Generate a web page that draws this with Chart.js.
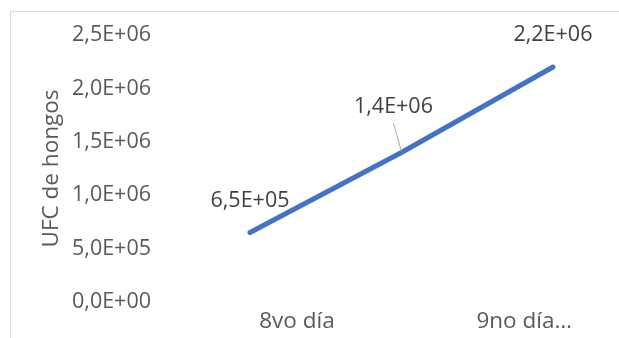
<!DOCTYPE html>
<html>
<head>
<meta charset="utf-8">
<script src="https://cdn.jsdelivr.net/npm/chart.js@4"></script>
<style>
  html, body { margin: 0; padding: 0; background: #fff; overflow: hidden; }
  #wrap { position: relative; width: 619px; height: 338px; }
  #frame { position: absolute; left: 10px; top: 11px; width: 640px; height: 360px; border: 1px solid #d9d9d9; box-sizing: border-box; }
  canvas { position: absolute; left: 0; top: 0; }
</style>
</head>
<body>
<div id="wrap">
  <div id="frame"></div>
  <canvas id="ufc-chart" width="619" height="338"></canvas>
</div>
<script>
const days = ["8vo día", "", "9no día…"];
const axisLabels = ["8vo día", "9no día…"];
const ufc = [650000, 1400000, 2200000];
const yTicks = [0, 500000, 1000000, 1500000, 2000000, 2500000];

const FONT = "'Open Sans', 'Noto Sans', sans-serif";
const NUM_SIZE = 21.5;
const TEXT_SIZE = 22.5;

// 2500000 -> "2,5E+06"
const sci = (v) => {
  const [m, e] = Number(v).toExponential(1).split("e");
  const sign = e[0] === "-" ? "-" : "+";
  const exp = String(Math.abs(parseInt(e, 10))).padStart(2, "0");
  return `${m.replace(".", ",")}E${sign}${exp}`;
};

// value labels above the points; the middle one sits up-left with a leader line
const valueLabels = {
  id: "valueLabels",
  afterDatasetsDraw(chart) {
    const { ctx } = chart;
    const meta = chart.getDatasetMeta(0);
    ctx.save();
    ctx.font = `${NUM_SIZE}px ${FONT}`;
    ctx.fillStyle = "#404040";
    ctx.textAlign = "center";
    ctx.textBaseline = "middle";
    meta.data.forEach((pt, i) => {
      const text = sci(ufc[i]);
      if (i === 1) {
        ctx.strokeStyle = "#a6a6a6";
        ctx.lineWidth = 1;
        ctx.beginPath();
        ctx.moveTo(pt.x - 8, pt.y - 29);
        ctx.lineTo(pt.x, pt.y - 1);
        ctx.stroke();
        ctx.fillText(text, pt.x - 8, pt.y - 46);
      } else {
        ctx.fillText(text, pt.x, pt.y - 32);
      }
    });
    ctx.restore();
  }
};

new Chart(document.getElementById("ufc-chart"), {
  type: "line",
  data: {
    labels: days,
    datasets: [{
      data: ufc.map((v, i) => ({ x: i, y: v })),
      borderColor: "#4472c4",
      borderWidth: 5,
      borderCapStyle: "round",
      pointRadius: 0,
      tension: 0
    }]
  },
  options: {
    responsive: false,
    animation: false,
    layout: { padding: { top: 35, left: 0, right: 0, bottom: 0 } },
    plugins: { legend: { display: false }, tooltip: { enabled: false } },
    scales: {
      x: {
        type: "linear",
        min: -0.594,
        max: 2.436,
        grid: { display: false, drawTicks: false },
        border: { display: false },
        afterBuildTicks: (scale) => {
          scale.ticks = [{ value: 0.31 }, { value: 1.81 }];
        },
        afterFit: (scale) => { scale.height = 36; },
        ticks: {
          padding: 6,
          autoSkip: false,
          maxRotation: 0,
          color: "#595959",
          font: { family: FONT, size: TEXT_SIZE },
          callback: (v, i) => axisLabels[i]
        }
      },
      y: {
        min: 0,
        max: 2500000,
        grid: { display: false, drawTicks: false },
        border: { display: false },
        afterBuildTicks: (scale) => {
          scale.ticks = yTicks.map((v) => ({ value: v }));
        },
        afterFit: (scale) => { scale.width = 160; },
        ticks: {
          padding: 9,
          color: "#595959",
          font: { family: FONT, size: NUM_SIZE },
          callback: (v) => sci(v)
        },
        title: {
          display: true,
          text: "UFC de hongos",
          color: "#595959",
          font: { family: FONT, size: TEXT_SIZE },
          padding: { top: 38 }
        }
      }
    }
  },
  plugins: [valueLabels]
});
</script>
</body>
</html>
